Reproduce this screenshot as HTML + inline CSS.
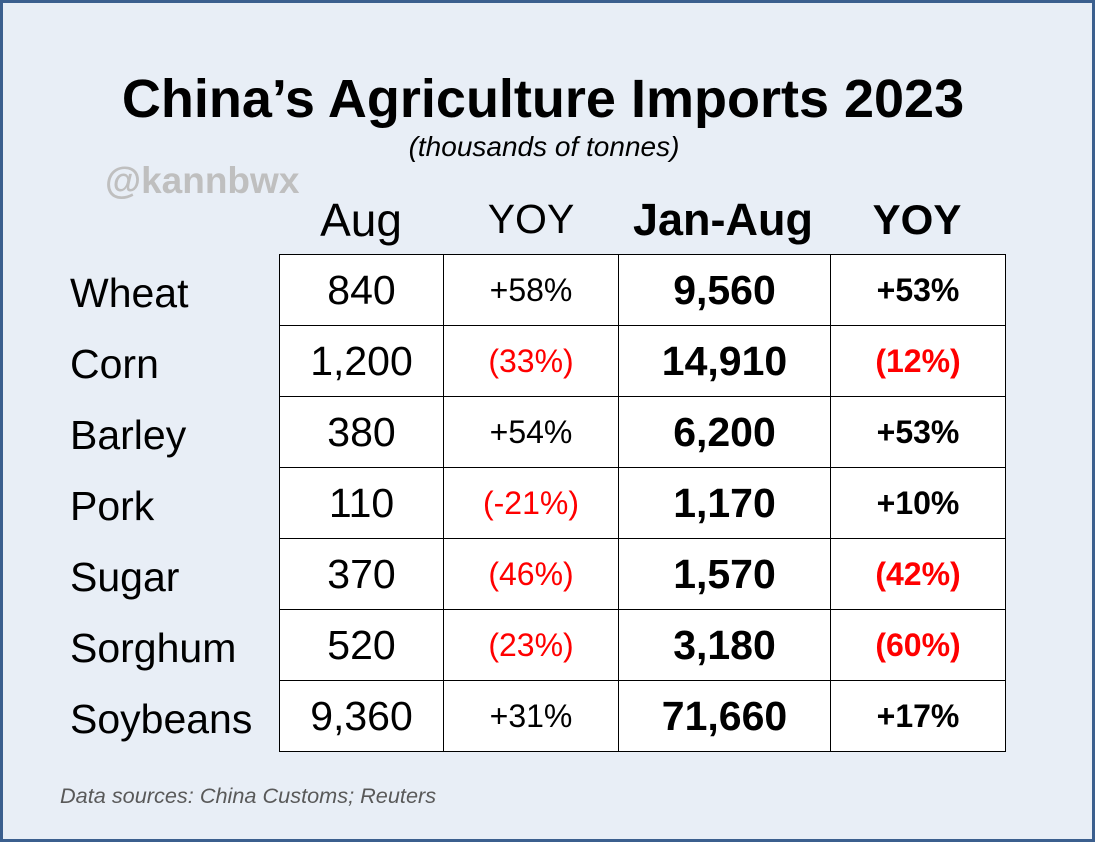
<!DOCTYPE html>
<html><head><meta charset="utf-8"><style>
*{margin:0;padding:0;box-sizing:border-box}
body{width:1095px;height:842px;overflow:hidden;font-family:"Liberation Sans",Arial,sans-serif;}
#frame{position:absolute;left:0;top:0;width:1095px;height:842px;background:#e8eef6;border:3px solid #3b5f8e;}
.t{position:absolute;white-space:nowrap;line-height:1;}
.c{transform:translateX(-50%);}
table{position:absolute;left:279px;top:254px;border-collapse:collapse;background:#fff;}
td{border:1px solid #000;height:71px;text-align:center;vertical-align:middle;padding:0;line-height:1;}
.a{width:164px;font-size:41px;}
.y{width:175px;font-size:32px;}
.j{width:212px;font-size:41px;font-weight:bold;}
.z{width:175px;font-size:32px;font-weight:bold;}
.r{color:#f00;}
.lbl{position:absolute;left:70px;font-size:41px;line-height:1;}
</style></head><body>
<div id="frame"></div>
<div class="t c" style="left:543px;top:72px;font-size:54px;font-weight:bold;">China’s Agriculture Imports 2023</div>
<div class="t c" style="left:544px;top:133px;font-size:28px;font-style:italic;">(thousands of tonnes)</div>
<div class="t" style="left:105px;top:162px;font-size:37px;font-weight:bold;color:#bfbfbf;">@kannbwx</div>
<div class="t c" style="left:361px;top:197px;font-size:46px;">Aug</div>
<div class="t c" style="left:531px;top:199px;font-size:41px;">YOY</div>
<div class="t c" style="left:723px;top:197px;font-size:45px;font-weight:bold;">Jan-Aug</div>
<div class="t c" style="left:917px;top:199px;font-size:42px;font-weight:bold;">YOY</div>
<div class="lbl" style="top:273px">Wheat</div>
<div class="lbl" style="top:344px">Corn</div>
<div class="lbl" style="top:415px">Barley</div>
<div class="lbl" style="top:486px">Pork</div>
<div class="lbl" style="top:557px">Sugar</div>
<div class="lbl" style="top:628px">Sorghum</div>
<div class="lbl" style="top:699px">Soybeans</div>
<table>
<tr><td class="a">840</td><td class="y">+58%</td><td class="j">9,560</td><td class="z">+53%</td></tr>
<tr><td class="a">1,200</td><td class="y r">(33%)</td><td class="j">14,910</td><td class="z r">(12%)</td></tr>
<tr><td class="a">380</td><td class="y">+54%</td><td class="j">6,200</td><td class="z">+53%</td></tr>
<tr><td class="a">110</td><td class="y r">(-21%)</td><td class="j">1,170</td><td class="z">+10%</td></tr>
<tr><td class="a">370</td><td class="y r">(46%)</td><td class="j">1,570</td><td class="z r">(42%)</td></tr>
<tr><td class="a">520</td><td class="y r">(23%)</td><td class="j">3,180</td><td class="z r">(60%)</td></tr>
<tr><td class="a">9,360</td><td class="y">+31%</td><td class="j">71,660</td><td class="z">+17%</td></tr>
</table>
<div class="t" style="left:60px;top:785px;font-size:21.7px;font-style:italic;color:#595959;">Data sources: China Customs; Reuters</div>
</body></html>
